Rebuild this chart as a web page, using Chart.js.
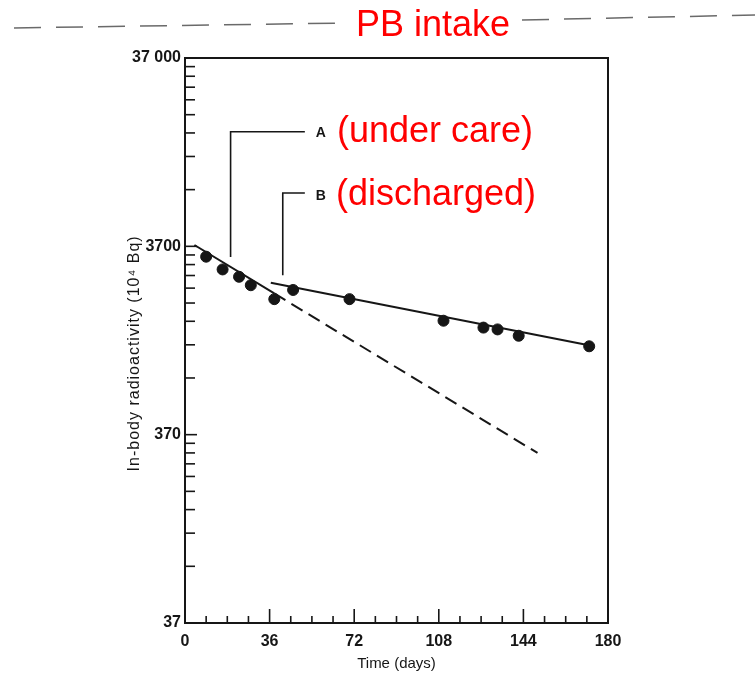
<!DOCTYPE html>
<html><head><meta charset="utf-8">
<script src="https://cdn.jsdelivr.net/npm/chart.js@4.4.1/dist/chart.umd.min.js"></script>
<style>html,body{margin:0;padding:0;background:#fff;}#wrap{width:755px;height:674px;}</style>
</head><body><div id="wrap"><canvas id="c" width="755" height="674"></canvas></div>
<script>
// Measured points (days, 10^4 Bq)
const days = [9, 16, 23, 28, 38, 46, 70, 110, 127, 133, 142, 172];
const activity = [3260, 2790, 2550, 2300, 1940, 2170, 1940, 1490, 1370, 1340, 1240, 1090];
// Fitted line A (under care): solid then dashed extrapolation
const lineADays = [4, 38, 150];
const lineAValues = [3760, 2080, 296];
// Fitted line B (discharged)
const lineBDays = [36.5, 174];
const lineBValues = [2370, 1090];
// Leader lines for labels A and B
const pointerADays = [19.4, 19.4, 51];
const pointerAValues = [3250, 15030, 15030];
const pointerBDays = [41.6, 41.6, 51];
const pointerBValues = [2600, 7100, 7100];
const pointerLabels = ['A', 'B'];
// Axis ticks
const yMajorTicks = [37, 370, 3700, 37000];
const yTickLabels = ['37', '370', '3700', '37 000'];
const xMajorTicks = [0, 36, 72, 108, 144, 180];
const xMinorStep = 9;
const yTitle = 'In-body radioactivity (10\u2074 Bq)';
const xTitle = 'Time (days)';
const redTitle = 'PB intake';
const redLabels = ['(under care)', '(discharged)'];

const yAllTicks = [];
yMajorTicks.forEach((m, i) => {
  if (i < yMajorTicks.length - 1) { for (let k = 1; k <= 9; k++) yAllTicks.push(m * k); }
  else yAllTicks.push(m);
});

const toXY = (xs, ys) => xs.map((x, i) => ({x: x, y: ys[i]}));
const FONT = '"Liberation Sans", Arial, sans-serif';
const INK = '#161616';

const deco = {
  id: 'deco',
  beforeDraw(chart) {
    const ctx = chart.ctx;
    ctx.save();
    ctx.fillStyle = '#fff';
    ctx.fillRect(0, 0, chart.width, chart.height);
    ctx.strokeStyle = '#6a6a6a';
    ctx.lineWidth = 1.5;
    ctx.setLineDash([27, 15]);
    ctx.beginPath(); ctx.moveTo(14, 28); ctx.lineTo(345, 23); ctx.stroke();
    ctx.beginPath(); ctx.moveTo(522, 20); ctx.lineTo(755, 15); ctx.stroke();
    ctx.restore();
  },
  afterDraw(chart) {
    const ctx = chart.ctx, a = chart.chartArea;
    const xs = chart.scales.x, ys = chart.scales.y;
    ctx.save();
    // frame
    ctx.strokeStyle = INK; ctx.lineWidth = 2; ctx.setLineDash([]);
    ctx.strokeRect(a.left, a.top, a.right - a.left, a.bottom - a.top);
    // inward ticks y
    ctx.lineWidth = 1.6;
    yAllTicks.forEach(v => {
      const p = ys.getPixelForValue(v);
      const len = yMajorTicks.includes(v) ? 12 : 10;
      ctx.beginPath(); ctx.moveTo(a.left, p); ctx.lineTo(a.left + len, p); ctx.stroke();
    });
    // inward ticks x
    for (let d = 0; d <= 180; d += xMinorStep) {
      const p = xs.getPixelForValue(d);
      const len = xMajorTicks.includes(d) ? 14 : 7;
      ctx.beginPath(); ctx.moveTo(p, a.bottom); ctx.lineTo(p, a.bottom - len); ctx.stroke();
    }
    // y title
    ctx.fillStyle = INK;
    ctx.save();
    ctx.translate(a.left - 50, ys.getPixelForValue(1000));
    ctx.rotate(-Math.PI / 2);
    ctx.font = '16px ' + FONT;
    try { ctx.letterSpacing = '1px'; } catch (e) {}
    ctx.textAlign = 'center'; ctx.textBaseline = 'middle';
    ctx.fillText(yTitle, 0, 0);
    ctx.restore();
    // A / B labels
    ctx.font = 'bold 14px ' + FONT;
    ctx.textAlign = 'left'; ctx.textBaseline = 'middle';
    ctx.fillText(pointerLabels[0], xs.getPixelForValue(pointerADays[2]) + 11, ys.getPixelForValue(pointerAValues[2]) + 1);
    ctx.fillText(pointerLabels[1], xs.getPixelForValue(pointerBDays[2]) + 11, ys.getPixelForValue(pointerBValues[2]) + 3);
    // red annotations
    ctx.fillStyle = '#ff0000';
    ctx.font = '36px ' + FONT;
    ctx.textBaseline = 'alphabetic';
    ctx.textAlign = 'center';
    ctx.fillText(redTitle, 433, 36);
    ctx.textAlign = 'left';
    ctx.fillText(redLabels[0], 337, 142);
    ctx.fillText(redLabels[1], 336, 205);
    ctx.restore();
  }
};

new Chart(document.getElementById('c'), {
  type: 'line',
  data: {
    datasets: [
      { data: toXY(days, activity), showLine: false, pointRadius: 5.5, pointHoverRadius: 5.5,
        pointBackgroundColor: INK, pointBorderColor: INK, borderColor: INK },
      { data: toXY(lineADays, lineAValues), borderColor: INK, borderWidth: 2, pointRadius: 0,
        segment: { borderDash: c => c.p0DataIndex >= 1 ? [13, 7] : undefined } },
      { data: toXY(lineBDays, lineBValues), borderColor: INK, borderWidth: 2, pointRadius: 0 },
      { data: toXY(pointerADays, pointerAValues), borderColor: INK, borderWidth: 1.6, pointRadius: 0 },
      { data: toXY(pointerBDays, pointerBValues), borderColor: INK, borderWidth: 1.6, pointRadius: 0 }
    ]
  },
  options: {
    responsive: false, animation: false, devicePixelRatio: 1,
    layout: { padding: { left: 0, top: 58, right: 147, bottom: 0 } },
    plugins: { legend: { display: false }, tooltip: { enabled: false } },
    scales: {
      x: {
        type: 'linear', min: 0, max: 180,
        grid: { display: false, drawTicks: false }, border: { display: false },
        ticks: { stepSize: xMinorStep, autoSkip: false, maxRotation: 0, padding: 9, color: INK,
          font: { family: FONT, size: 16, weight: 'bold' },
          callback: v => xMajorTicks.includes(v) ? String(v) : '' },
        title: { display: true, text: xTitle, color: INK, font: { family: FONT, size: 15 }, padding: { top: 0, bottom: 1 } },
        afterFit: s => { s.height = 51; }
      },
      y: {
        type: 'logarithmic', min: 37, max: 37000,
        grid: { display: false, drawTicks: false }, border: { display: false },
        afterBuildTicks: s => { s.ticks = yAllTicks.map(v => ({ value: v })); },
        ticks: { autoSkip: false, padding: 4, color: INK, font: { family: FONT, size: 16, weight: 'bold' },
          callback: v => { const i = yMajorTicks.indexOf(v); return i >= 0 ? yTickLabels[i] : ''; } },
        afterFit: s => { s.width = 185; }
      }
    }
  },
  plugins: [deco]
});
</script></body></html>
